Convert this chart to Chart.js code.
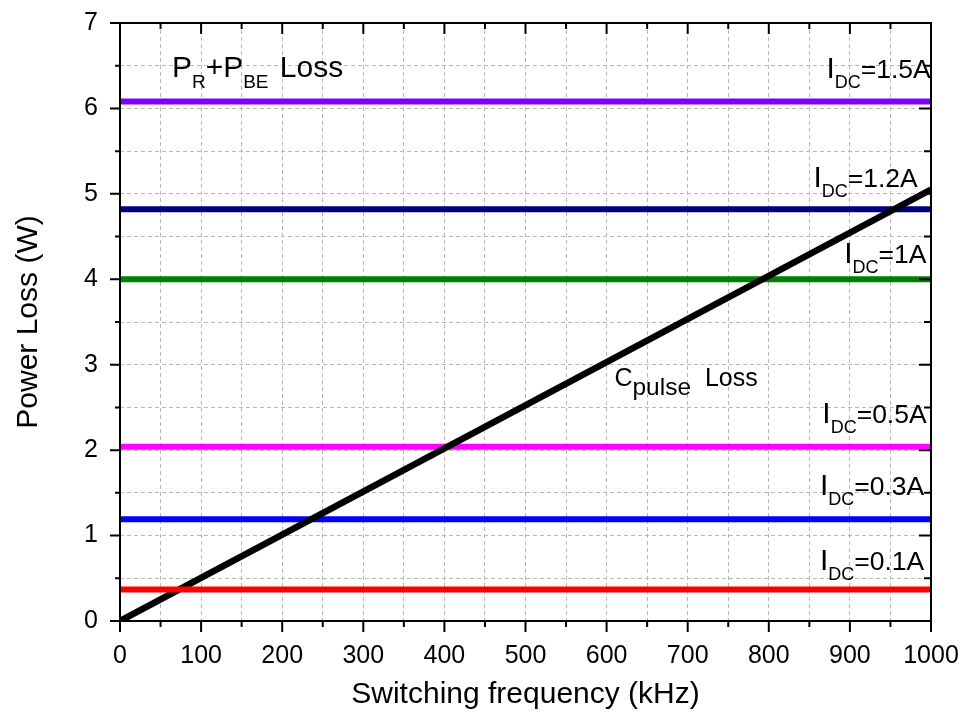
<html>

<head>
    <title>Power Loss vs Switching Frequency</title>
    <script src="https://cdn.jsdelivr.net/npm/chart.js"></script>
    <style>
        body { margin: 0; background: #fff; }
    </style>
</head>

<body>
    <canvas id="lossChart" width="963" height="717"></canvas>

    <script type="text/javascript" charset="utf-8">

        // P_R + P_BE loss for each DC current (flat over frequency)
        var freqRange = [0, 1000];
        var currentNames = ['1.5A', '1.2A', '1A', '0.5A', '0.3A', '0.1A'];
        var currentLoss = [6.08, 4.82, 4.00, 2.04, 1.19, 0.37];
        var currentColors = ['#8000ff', '#000080', '#008000', '#ff00ff', '#0000ff', '#ff0000'];

        // C_pulse loss, linear in frequency
        var pulseFreq = [0, 1000];
        var pulseLoss = [0, 5.05];

        // label anchors, in data units (left edge, baseline)
        var labelX = [871, 855, 893, 866, 863, 863];
        var labelY = [6.36, 5.08, 4.19, 2.32, 1.475, 0.597];

        var FONT = '"Liberation Sans", Arial, sans-serif';

        function drawRuns(ctx, x0, y0, runs) {
            var x = x0;
            ctx.textAlign = 'left';
            ctx.textBaseline = 'alphabetic';
            for (var i = 0; i < runs.length; i++) {
                var r = runs[i];
                x += r.gap || 0;
                ctx.font = r.size + 'px ' + FONT;
                ctx.fillText(r.t, x, y0 + (r.dy || 0));
                x += ctx.measureText(r.t).width;
            }
        }

        const boxPlugin = {
            id: 'box',
            afterDatasetsDraw(chart) {
                const ctx = chart.ctx;
                const a = chart.chartArea;
                const x = chart.scales.x, y = chart.scales.y;
                ctx.save();
                ctx.strokeStyle = '#000';
                ctx.lineWidth = 2;
                ctx.strokeRect(a.left, a.top, a.right - a.left, a.bottom - a.top);

                ctx.beginPath();
                for (var v = 0; v <= 1000; v += 50) {
                    var px = x.getPixelForValue(v);
                    var major = v % 100 === 0;
                    ctx.moveTo(px, a.bottom); ctx.lineTo(px, a.bottom + (major ? 11 : 6));
                    ctx.moveTo(px, a.top); ctx.lineTo(px, a.top + (major ? 11 : 6));
                }
                for (var w = 0; w <= 7; w += 0.5) {
                    var py = y.getPixelForValue(w);
                    var maj = w % 1 === 0;
                    ctx.moveTo(a.left, py); ctx.lineTo(a.left - (maj ? 10 : 5), py);
                    ctx.moveTo(a.right, py); ctx.lineTo(a.right - (maj ? 12 : 7), py);
                }
                ctx.stroke();

                ctx.fillStyle = '#000';
                for (var i = 0; i < currentNames.length; i++) {
                    drawRuns(ctx, x.getPixelForValue(labelX[i]), y.getPixelForValue(labelY[i]), [
                        { t: 'I', size: 30 },
                        { t: 'DC', size: 18, dy: 10 },
                        { t: '=' + currentNames[i], size: 26.5 }
                    ]);
                }
                drawRuns(ctx, x.getPixelForValue(64), y.getPixelForValue(6.368), [
                    { t: 'P', size: 30 },
                    { t: 'R', size: 19, dy: 11 },
                    { t: '+P', size: 30 },
                    { t: 'BE', size: 19, dy: 11 },
                    { t: ' Loss', size: 30, gap: 3 }
                ]);
                drawRuns(ctx, x.getPixelForValue(609.6), y.getPixelForValue(2.751), [
                    { t: 'C', size: 25 },
                    { t: 'pulse', size: 24.5, dy: 9 },
                    { t: ' Loss', size: 25, gap: 7 }
                ]);

                // axis titles
                ctx.font = '30px ' + FONT;
                ctx.textAlign = 'center';
                ctx.fillText('Switching frequency (kHz)', (a.left + a.right) / 2, 703);
                ctx.translate(37, (a.top + a.bottom) / 2);
                ctx.rotate(-Math.PI / 2);
                ctx.fillText('Power Loss (W)', 0, 0);
                ctx.restore();
            }
        };

        var datasets = [];
        for (var i = 0; i < currentNames.length; i++) {
            datasets.push({
                label: 'IDC=' + currentNames[i],
                data: freqRange.map(function (f) { return { x: f, y: currentLoss[i] }; }),
                borderColor: currentColors[i],
                borderWidth: 6,
                pointRadius: 0,
                order: currentNames[i] == '0.1A' ? 0 : 2
            });
        }
        datasets.push({
            label: 'Cpulse Loss',
            data: pulseFreq.map(function (f, k) { return { x: f, y: pulseLoss[k] }; }),
            borderColor: '#000',
            borderWidth: 6.5,
            pointRadius: 0,
            order: 1
        });

        const chart = new Chart(document.getElementById('lossChart'), {
            type: 'line',
            data: { datasets: datasets },
            options: {
                responsive: false,
                animation: false,
                layout: { padding: { top: 23, right: 32, left: 0, bottom: 0 } },
                plugins: { legend: { display: false }, tooltip: { enabled: false } },
                scales: {
                    x: {
                        type: 'linear',
                        min: 0,
                        max: 1000,
                        afterFit: function (s) { s.height = 96; s.paddingLeft = 0; s.paddingRight = 0; },
                        ticks: {
                            stepSize: 50,
                            autoSkip: false,
                            maxRotation: 0,
                            padding: 20,
                            color: '#000',
                            font: { size: 25, family: FONT },
                            callback: function (v) { return v % 100 === 0 ? v : ''; }
                        },
                        grid: { color: '#b8b8b8', lineWidth: 1, drawTicks: false },
                        border: { display: false, dash: [4, 3] }
                    },
                    y: {
                        min: 0,
                        max: 7,
                        afterFit: function (s) { s.width = 120; s.paddingTop = 0; s.paddingBottom = 0; },
                        ticks: {
                            stepSize: 0.5,
                            autoSkip: false,
                            padding: 22,
                            color: '#000',
                            font: { size: 25, family: FONT },
                            callback: function (v) { return v % 1 === 0 ? v : ''; }
                        },
                        grid: { color: '#b8b8b8', lineWidth: 1, drawTicks: false },
                        border: { display: false, dash: [4, 3] }
                    }
                }
            },
            plugins: [boxPlugin]
        });

    </script>
</body>

</html>
